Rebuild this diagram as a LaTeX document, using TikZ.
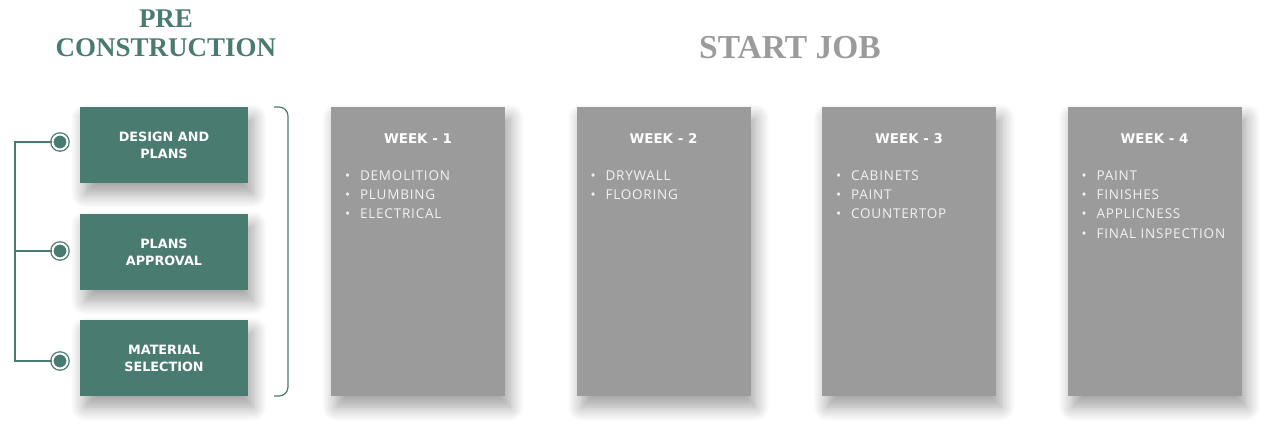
\documentclass[tikz,border=0pt]{standalone}
\usepackage{fontspec}
\setmainfont{Liberation Serif}
\setsansfont{DejaVu Sans}
\newfontfamily\itemfont[LetterSpace=6]{Open Sans}
\usetikzlibrary{positioning}
\usetikzlibrary{shadows.blur}
\definecolor{pcgreen}{HTML}{4A7B70}
\definecolor{weekgray}{HTML}{9B9B9B}
\definecolor{itemwhite}{HTML}{F2F2F2}
\tikzstyle{boxshadow}=[blur shadow={shadow xshift=5pt, shadow yshift=-11pt, shadow blur radius=14pt, shadow blur steps=12, shadow opacity=38}]
\tikzstyle{prebox}=[fill=pcgreen, boxshadow, inner sep=0, minimum width=168pt, minimum height=76pt,
                    text=white, align=center, font=\sffamily\bfseries\fontsize{12.8}{17}\selectfont]
\tikzstyle{weekbox}=[fill=weekgray, boxshadow, inner sep=0, minimum width=174pt, minimum height=289pt]
\tikzstyle{weektitle}=[text=white, inner sep=0, font=\sffamily\bfseries\fontsize{13.4}{16}\selectfont]
\tikzstyle{weeklist}=[text=itemwhite, inner sep=0, align=left, anchor=north west,
                      font=\itemfont\fontsize{13.5}{19.3}\selectfont]
\tikzstyle{ring}=[circle, draw=pcgreen, fill=pcgreen, double=white, double distance=2pt,
                  line width=1.3pt, minimum size=15pt, inner sep=0]
\newcommand{\wk}[1]{\makebox[15pt][l]{\textbullet}#1}

\begin{document}
\begin{tikzpicture}[x=1pt, y=-1pt]
        \useasboundingbox (0, 0) rectangle (1285, 440);
        % titles
        \node[text=pcgreen, align=center, font=\bfseries\fontsize{27}{29}\selectfont] (pretitle) at (166, 33) {PRE\\CONSTRUCTION};
        \node[text=weekgray, font=\bfseries\fontsize{33.5}{36}\selectfont] (starttitle) at (790, 48) {START JOB};
        % pre construction steps
        \node[prebox] (design) at (164, 145) {DESIGN AND\\PLANS};
        \node[prebox] (approval) at (164, 252) {PLANS\\APPROVAL};
        \node[prebox] (material) at (164, 358) {MATERIAL\\SELECTION};
        \node[ring] (ring1) at (60, 142) {};
        \node[ring] (ring2) at (60, 251) {};
        \node[ring] (ring3) at (60, 361) {};
        \coordinate (top) at (15, 142);
        \coordinate (mid) at (15, 251);
        \coordinate (bot) at (15, 361);
        \draw[pcgreen, line width=1.2pt] (ring1.west) -- (top) -- (bot) -- (ring3.west);
        \draw[pcgreen, line width=1.2pt] (mid) -- (ring2.west);
        \draw[pcgreen, line width=1.2pt, rounded corners=9pt] (274, 107) -- (288, 107) -- (288, 396) -- (274, 396);
        % weeks
        \node[weekbox] (week1) at (418, 251.5) {};
        \node[weekbox] (week2) at (663.5, 251.5) {};
        \node[weekbox] (week3) at (909, 251.5) {};
        \node[weekbox] (week4) at (1154.5, 251.5) {};
        \node[weektitle, below=26.5pt of week1.north] {WEEK - 1};
        \node[weektitle, below=26.5pt of week2.north] {WEEK - 2};
        \node[weektitle, below=26.5pt of week3.north] {WEEK - 3};
        \node[weektitle, below=26.5pt of week4.north] {WEEK - 4};
        \node[weeklist, below right=63.5pt and 14pt of week1.north west] {\wk{DEMOLITION}\\\wk{PLUMBING}\\\wk{ELECTRICAL}};
        \node[weeklist, below right=63.5pt and 14pt of week2.north west] {\wk{DRYWALL}\\\wk{FLOORING}};
        \node[weeklist, below right=63.5pt and 14pt of week3.north west] {\wk{CABINETS}\\\wk{PAINT}\\\wk{COUNTERTOP}};
        \node[weeklist, below right=63.5pt and 14pt of week4.north west] {\wk{PAINT}\\\wk{FINISHES}\\\wk{APPLICNESS}\\\wk{FINAL INSPECTION}};
    \end{tikzpicture}
\end{document}
